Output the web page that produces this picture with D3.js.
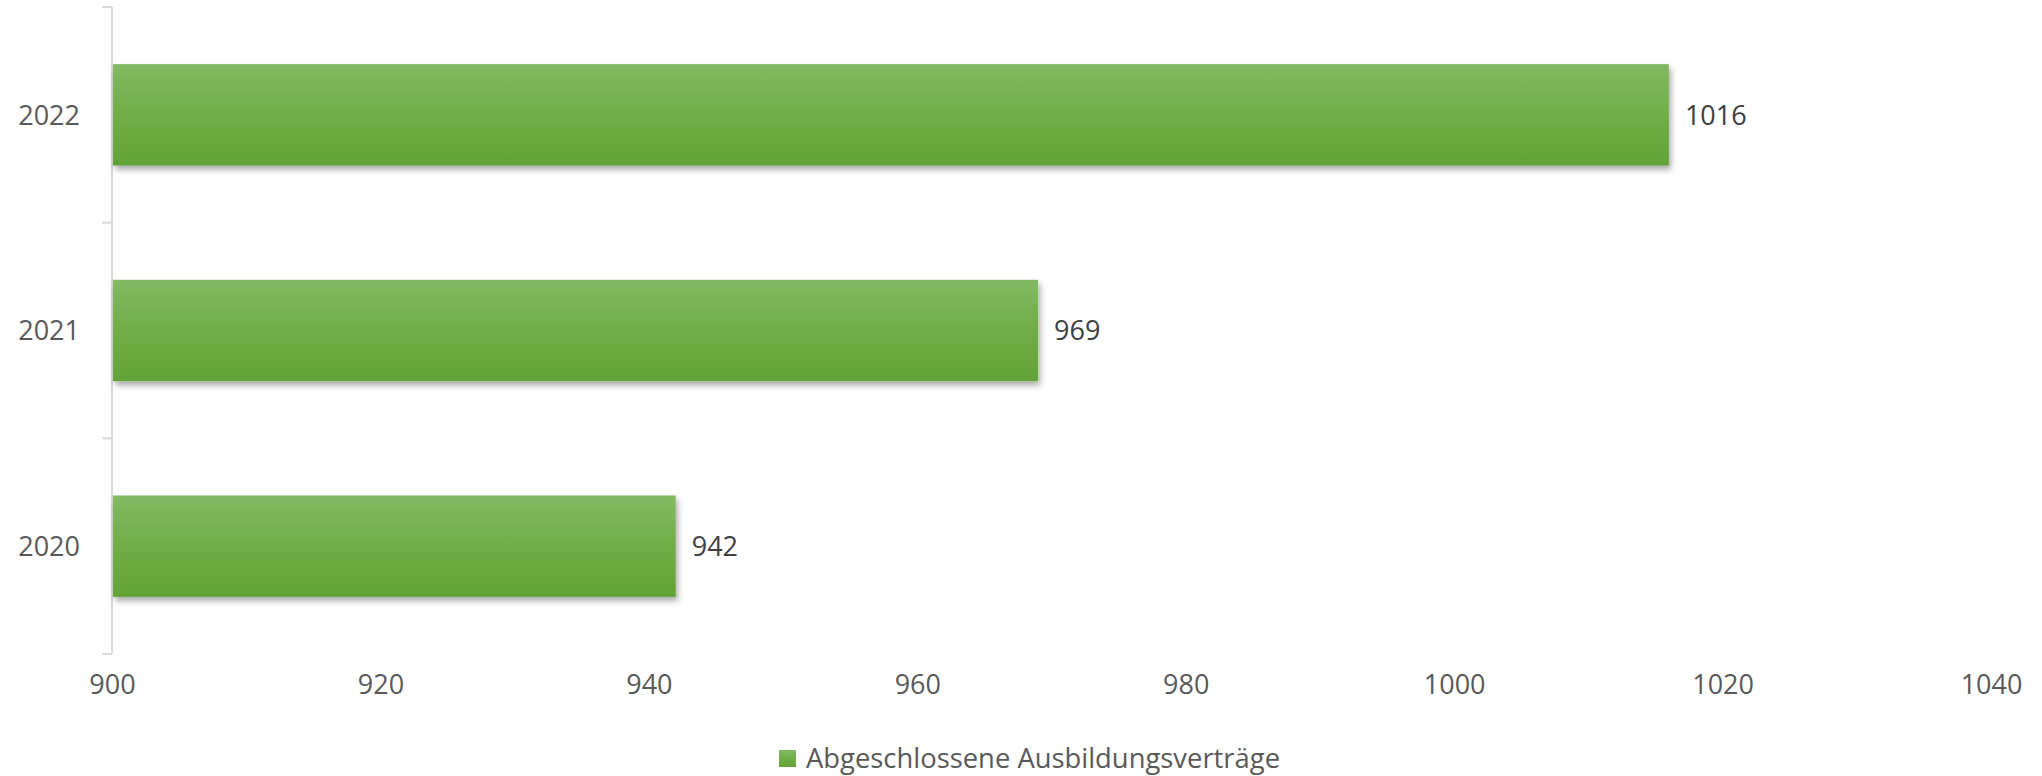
<!DOCTYPE html>
<html>
<head>
<meta charset="utf-8">
<script src="https://cdn.jsdelivr.net/npm/d3@7"></script>
<style>
  body { margin: 0; background: #fff; }
  svg text { font-family: "Open Sans", sans-serif; }
</style>
</head>
<body>
<div id="chart"></div>
<script>
const YEARS = ["2022", "2021", "2020"];
const VALUES = [1016, 969, 942];
const X_TICKS = [900, 920, 940, 960, 980, 1000, 1020, 1040];
const SERIES_NAME = "Abgeschlossene Ausbildungsverträge";

const WIDTH = 2042, HEIGHT = 776;
const PLOT = { left: 112, right: 1991, top: 7, bottom: 654 };

const svg = d3.select("#chart").append("svg")
    .attr("width", WIDTH)
    .attr("height", HEIGHT);

const defs = svg.append("defs");
const grad = defs.append("linearGradient")
    .attr("id", "barGrad")
    .attr("x1", 0).attr("y1", 0).attr("x2", 0).attr("y2", 1);
grad.append("stop").attr("offset", "0%").attr("stop-color", "#83b964");
grad.append("stop").attr("offset", "50%").attr("stop-color", "#70ae46");
grad.append("stop").attr("offset", "100%").attr("stop-color", "#62a336");

const shadow = defs.append("filter")
    .attr("id", "shadow")
    .attr("x", "-5%").attr("y", "-20%")
    .attr("width", "110%").attr("height", "150%");
shadow.append("feDropShadow")
    .attr("dx", 2).attr("dy", 4)
    .attr("stdDeviation", 3)
    .attr("flood-color", "#000")
    .attr("flood-opacity", 0.35);

const x = d3.scaleLinear()
    .domain([900, 1040])
    .range([PLOT.left, PLOT.right]);

const y = d3.scaleBand()
    .domain(YEARS)
    .range([PLOT.top, PLOT.bottom])
    .paddingInner(0.53)
    .paddingOuter(0.265);

// x tick labels, no axis line
const xAxis = svg.append("g")
    .attr("transform", "translate(0," + PLOT.bottom + ")")
    .call(d3.axisBottom(x).tickValues(X_TICKS).tickFormat(d3.format("d")).tickSize(0).tickPadding(40));
xAxis.select(".domain").remove();
xAxis.selectAll("text")
    .attr("fill", "#595959")
    .attr("font-size", 27)
    .attr("dy", 0);

// y axis, ticks sit between the categories
const yAxis = svg.append("g")
    .attr("transform", "translate(" + PLOT.left + ",0)");
yAxis.append("line")
    .attr("x1", 0).attr("x2", 0)
    .attr("y1", PLOT.top).attr("y2", PLOT.bottom)
    .attr("stroke", "#d9d9d9")
    .attr("stroke-width", 2);
const step = (PLOT.bottom - PLOT.top) / YEARS.length;
d3.range(YEARS.length + 1).forEach(i => {
    yAxis.append("line")
        .attr("x1", -10).attr("x2", 0)
        .attr("y1", PLOT.top + i * step).attr("y2", PLOT.top + i * step)
        .attr("stroke", "#d9d9d9")
        .attr("stroke-width", 2);
});
yAxis.selectAll("text.ylab")
    .data(YEARS)
    .enter()
    .append("text")
    .attr("class", "ylab")
    .attr("x", -32)
    .attr("y", d => y(d) + y.bandwidth() / 2)
    .attr("dy", "0.36em")
    .attr("text-anchor", "end")
    .attr("fill", "#595959")
    .attr("font-size", 27)
    .text(d => d);

// bars
svg.append("g")
    .selectAll("rect")
    .data(VALUES)
    .enter()
    .append("rect")
    .attr("x", x(900) + 1)
    .attr("y", (d, i) => y(YEARS[i]))
    .attr("width", d => x(d) - x(900) - 1)
    .attr("height", y.bandwidth())
    .attr("fill", "url(#barGrad)")
    .attr("filter", "url(#shadow)");

// value labels
svg.append("g")
    .selectAll("text")
    .data(VALUES)
    .enter()
    .append("text")
    .attr("x", d => x(d) + 16)
    .attr("y", (d, i) => y(YEARS[i]) + y.bandwidth() / 2)
    .attr("dy", "0.36em")
    .attr("fill", "#404040")
    .attr("font-size", 27)
    .text(d => d);

// legend
const legend = svg.append("g");
legend.append("rect")
    .attr("x", 779).attr("y", 750)
    .attr("width", 17).attr("height", 17)
    .attr("fill", "url(#barGrad)");
legend.append("text")
    .attr("x", 806).attr("y", 768)
    .attr("fill", "#595959")
    .attr("font-size", 27)
    .attr("textLength", 474)
    .attr("lengthAdjust", "spacingAndGlyphs")
    .text(SERIES_NAME);
</script>
</body>
</html>
